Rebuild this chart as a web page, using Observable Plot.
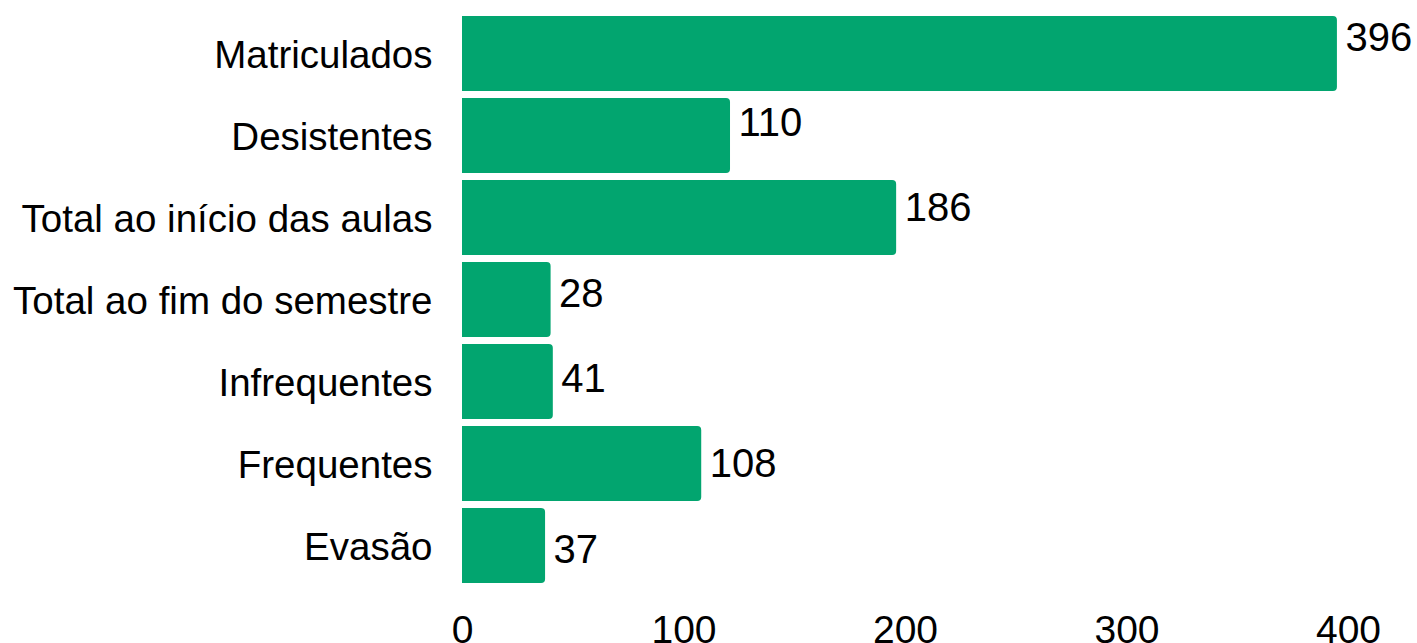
<!DOCTYPE html>
<html>
<head>
<meta charset="utf-8">
<script src="https://cdn.jsdelivr.net/npm/d3@7"></script>
<script src="https://cdn.jsdelivr.net/npm/@observablehq/plot@0.6"></script>
<style>
  html, body { margin: 0; padding: 0; background: #fff; }
  #chart { width: 1417px; height: 643px; overflow: hidden; }
</style>
</head>
<body>
<div id="chart"></div>
<script>
// Categories (top to bottom)
const categories = [
  "Matriculados",
  "Desistentes",
  "Total ao início das aulas",
  "Total ao fim do semestre",
  "Infrequentes",
  "Frequentes",
  "Evasão"
];
// Value labels as printed
const labelValues = [396, 110, 186, 28, 41, 108, 37];
// Bar lengths as drawn in the picture
const barValues = [395, 121, 196, 40, 41, 108, 37.5];
// Axis ticks
const xTicks = [0, 100, 200, 300, 400];

const data = categories.map((c, i) => ({cat: c, bar: barValues[i], label: labelValues[i], i}));

const green = "#02a56f";
const font = "Liberation Sans, Arial, sans-serif";

const labelMarks = data.map(d =>
  Plot.text([d], {
    x: "bar", y: "cat", text: dd => String(dd.label),
    textAnchor: "start", dx: 8, dy: -16 + 3.3 * d.i,
    fill: "#000", fontSize: 40, fontFamily: font
  })
);

const chart = Plot.plot({
  width: 1417,
  height: 643,
  marginLeft: 462,
  marginRight: 69,
  marginTop: 13,
  marginBottom: 57,
  style: {fontFamily: font, fontSize: "38.5px", color: "#000", background: "#fff", overflow: "visible"},
  x: {domain: [0, 400], ticks: xTicks, label: null, tickSize: 0, tickPadding: 29},
  y: {domain: categories, label: null, tickSize: 0, tickPadding: 30, paddingInner: 0.09, paddingOuter: 0},
  marks: [
    Plot.barX(data, {x: "bar", y: "cat", fill: green, rx: 4, insetLeft: -8, clip: true}),
    ...labelMarks,
    Plot.axisX({ticks: xTicks, tickSize: 0, tickPadding: 29, fontSize: 39, label: null, fill: "#000"}),
    Plot.axisY({tickSize: 0, tickPadding: 30, fontSize: 38.5, label: null, fill: "#000", dy: 2})
  ]
});
document.getElementById("chart").appendChild(chart);
</script>
</body>
</html>
